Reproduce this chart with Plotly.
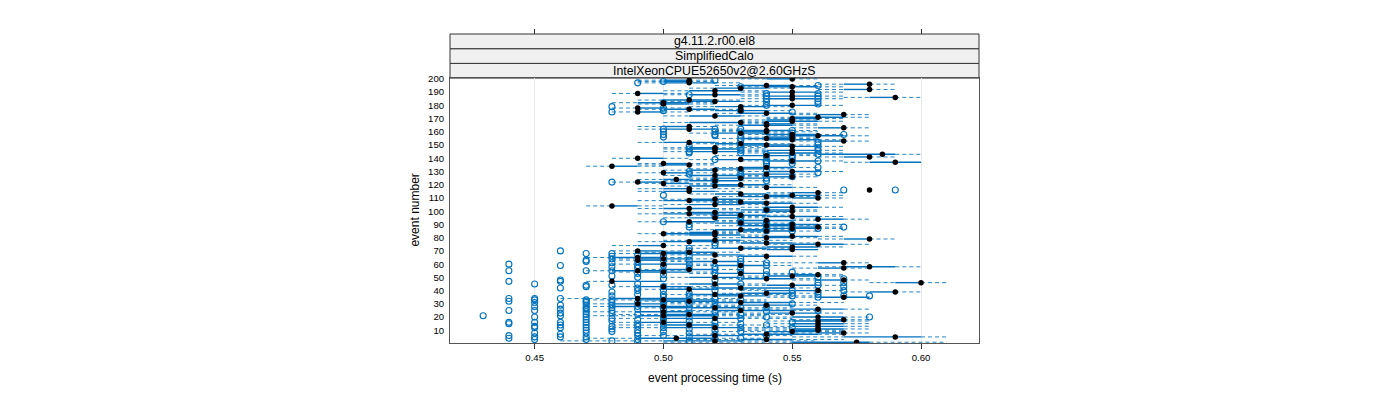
import plotly.graph_objects as go

# ---------------- data (times in milliseconds) ----------------
event_number = list(range(1, 201))

median_ms = [575, 520, 540, 505, 590, 520, 540, 570, 550, 560,
             560, 520, 560, 510, 560, 500, 560, 570, 520, 560,
             500, 510, 550, 500, 530, 560, 520, 500, 540, 490,
             530, 510, 500, 490, 570, 530, 520, 540, 590, 560,
             510, 530, 500, 550, 520, 600, 480, 570, 540, 520,
             550, 560, 530, 500, 490, 510, 570, 580, 530, 500,
             570, 520, 490, 500, 490, 540, 520, 500, 510, 490,
             550, 530, 550, 500, 560, 540, 510, 520, 580, 540,
             550, 520, 500, 520, 540, 530, 550, 560, 540, 550,
             530, 510, 540, 560, 520, 550, 530, 510, 520, 550,
             540, 510, 550, 480, 520, 540, 530, 510, 520, 560,
             540, 550, 530, 560, 510, 580, 510, 540, 520, 530,
             500, 490, 520, 505, 530, 550, 520, 540, 500, 550,
             520, 530, 540, 480, 510, 500, 590, 550, 530, 490,
             580, 540, 585, 550, 520, 550, 520, 520, 550, 540,
             530, 510, 570, 550, 540, 550, 560, 550, 530, 540,
             540, 510, 570, 510, 540, 540, 530, 550, 550, 550,
             560, 520, 570, 540, 490, 530, 510, 490, 530, 550,
             500, 500, 520, 510, 550, 590, 550, 520, 490, 550,
             520, 580, 530, 550, 540, 580, 510, 510, 510, 550]

q1_ms = [550, 500, 530, 490, 570, 510, 530, 560, 540, 550,
         550, 500, 550, 500, 550, 490, 550, 560, 500, 550,
         490, 500, 540, 490, 520, 550, 500, 480, 530, 480,
         520, 500, 490, 480, 560, 520, 510, 530, 580, 540,
         500, 520, 490, 540, 510, 590, 480, 560, 530, 510,
         540, 550, 520, 490, 480, 500, 560, 570, 520, 490,
         560, 510, 490, 490, 480, 530, 510, 490, 500, 490,
         540, 520, 540, 490, 550, 530, 500, 510, 570, 530,
         540, 510, 500, 510, 530, 520, 540, 550, 530, 540,
         520, 500, 530, 560, 510, 540, 520, 500, 510, 540,
         530, 500, 540, 480, 510, 530, 520, 500, 510, 550,
         530, 540, 520, 550, 500, 580, 500, 540, 510, 520,
         500, 490, 510, 500, 520, 540, 510, 530, 500, 540,
         510, 520, 530, 480, 500, 500, 580, 540, 520, 490,
         570, 530, 560, 540, 510, 540, 510, 510, 540, 530,
         520, 500, 560, 540, 530, 540, 550, 540, 520, 530,
         530, 500, 560, 500, 530, 540, 510, 540, 540, 550,
         550, 510, 560, 530, 490, 520, 500, 490, 520, 540,
         500, 490, 510, 500, 540, 580, 540, 510, 490, 540,
         510, 570, 520, 540, 530, 570, 500, 500, 500, 540]

q3_ms = [580, 530, 550, 520, 600, 530, 560, 570, 560, 560,
         570, 530, 570, 520, 570, 510, 570, 570, 530, 570,
         520, 520, 560, 510, 550, 570, 530, 510, 550, 500,
         550, 520, 520, 510, 580, 540, 530, 550, 590, 560,
         520, 550, 510, 560, 530, 600, 500, 570, 550, 530,
         560, 560, 540, 510, 500, 520, 570, 590, 540, 510,
         570, 530, 500, 510, 500, 550, 530, 510, 520, 500,
         560, 540, 560, 500, 570, 550, 520, 530, 580, 550,
         560, 530, 520, 520, 550, 540, 560, 560, 550, 560,
         540, 520, 550, 570, 530, 560, 540, 520, 530, 550,
         550, 520, 560, 490, 530, 550, 540, 520, 530, 560,
         550, 560, 540, 560, 520, 580, 510, 550, 530, 540,
         510, 500, 530, 510, 540, 550, 530, 550, 510, 560,
         520, 540, 550, 490, 510, 510, 600, 560, 540, 500,
         580, 550, 590, 560, 530, 560, 530, 520, 560, 550,
         540, 520, 570, 560, 550, 550, 570, 560, 540, 540,
         550, 520, 570, 510, 550, 550, 530, 560, 550, 560,
         570, 530, 570, 550, 500, 540, 520, 500, 540, 560,
         510, 510, 530, 520, 560, 590, 560, 530, 500, 560,
         530, 580, 540, 560, 550, 580, 520, 510, 510, 550]

whisker_lo_ms = [500, 460, 510, 470, 550, 490, 510, 540, 520, 530,
                 530, 480, 540, 480, 540, 480, 540, 550, 480, 530,
                 470, 480, 520, 470, 500, 530, 490, 470, 510, 470,
                 500, 490, 470, 460, 540, 510, 500, 520, 570, 530,
                 490, 500, 480, 530, 500, 580, 470, 550, 520, 500,
                 530, 540, 510, 480, 470, 490, 550, 560, 510, 480,
                 540, 500, 480, 480, 470, 520, 500, 480, 490, 480,
                 530, 510, 530, 480, 540, 520, 490, 500, 560, 520,
                 530, 500, 490, 500, 520, 510, 530, 540, 520, 530,
                 510, 490, 520, 550, 500, 530, 510, 490, 500, 530,
                 520, 490, 530, 470, 500, 520, 510, 490, 500, 540,
                 520, 530, 510, 540, 490, 580, 490, 530, 500, 510,
                 490, 480, 500, 490, 510, 530, 500, 520, 490, 530,
                 500, 510, 520, 470, 490, 490, 570, 530, 510, 480,
                 560, 520, 550, 530, 500, 530, 500, 500, 530, 520,
                 510, 490, 550, 530, 520, 530, 540, 530, 510, 520,
                 520, 490, 550, 490, 520, 530, 500, 530, 530, 540,
                 540, 500, 550, 520, 480, 510, 490, 480, 510, 530,
                 490, 480, 500, 490, 530, 570, 530, 500, 480, 530,
                 500, 560, 510, 530, 520, 560, 490, 490, 490, 530]

whisker_hi_ms = [610, 560, 570, 540, 610, 550, 570, 580, 570, 570,
                 580, 550, 580, 540, 580, 530, 580, 580, 550, 580,
                 540, 550, 570, 530, 560, 580, 550, 530, 560, 520,
                 570, 540, 540, 530, 580, 560, 550, 560, 600, 570,
                 540, 560, 520, 570, 540, 610, 500, 580, 560, 540,
                 570, 570, 560, 520, 510, 530, 580, 600, 550, 520,
                 580, 540, 510, 520, 510, 560, 540, 520, 530, 510,
                 560, 550, 570, 520, 580, 560, 540, 550, 590, 560,
                 570, 540, 530, 540, 560, 550, 570, 570, 560, 570,
                 550, 530, 560, 580, 540, 570, 550, 530, 550, 560,
                 560, 530, 570, 500, 540, 560, 550, 530, 540, 570,
                 560, 570, 550, 570, 530, 580, 530, 560, 540, 550,
                 520, 510, 540, 520, 550, 560, 540, 560, 520, 570,
                 530, 550, 560, 500, 520, 520, 600, 570, 550, 510,
                 590, 560, 600, 570, 540, 570, 540, 540, 570, 560,
                 550, 530, 580, 570, 560, 560, 580, 570, 550, 560,
                 560, 530, 580, 520, 560, 560, 540, 570, 560, 570,
                 580, 540, 580, 560, 510, 550, 530, 510, 550, 570,
                 520, 520, 540, 530, 570, 600, 570, 540, 510, 570,
                 540, 590, 550, 570, 560, 590, 530, 520, 520, 560]

# outliers: time column (ms) -> event numbers showing an outlier there
outlier_columns_ms = [430, 440, 450, 460, 470, 480, 490, 500, 510, 520,
                      530, 540, 550, 560, 570, 580, 590]
outlier_events = [
    [21],
    [4, 6, 15, 16, 25, 32, 34, 47, 55, 60],
    [3, 5, 8, 12, 13, 16, 20, 25, 28, 31, 33, 34, 45],
    [5, 7, 12, 14, 16, 21, 23, 26, 29, 34, 42, 47, 48, 59, 70],
    [3, 5, 8, 10, 12, 14, 16, 18, 20, 22, 24, 26, 27, 29, 31, 32, 33, 43,
     44, 55, 62, 63, 68],
    [2, 9, 11, 13, 17, 19, 23, 25, 27, 29, 31, 33, 36, 39, 44, 51, 55, 58,
     61, 64, 66, 68, 122, 175, 179],
    [1, 3, 6, 8, 10, 13, 15, 18, 22, 26, 28, 31, 37, 40, 42, 45, 50, 53, 57,
     59, 62, 67, 197],
    [6, 9, 12, 15, 18, 20, 23, 26, 29, 32, 35, 37, 40, 43, 49, 52, 55, 59,
     63, 66, 92, 112, 156, 158, 160, 162, 176, 178, 182, 198],
    [2, 5, 8, 11, 14, 17, 20, 23, 27, 30, 33, 36, 38, 57, 60, 63, 66, 70, 72,
     88, 90, 128, 130, 144, 145, 147, 149, 188],
    [3, 7, 10, 13, 16, 21, 24, 28, 31, 34, 40, 43, 48, 53, 56, 58, 74, 76,
     96, 98, 123, 124, 139, 157, 158, 160, 162, 199],
    [4, 9, 12, 15, 19, 22, 27, 33, 45, 50, 54, 57, 60, 62, 64, 91, 93, 96,
     126, 128, 131, 144, 146, 148, 150, 153, 155, 157, 160, 162, 176, 194],
    [6, 14, 20, 24, 28, 52, 55, 59, 61, 85, 87, 90, 92, 101, 123, 125, 131,
     134, 136, 138, 141, 143, 180, 183, 185, 187, 189],
    [12, 16, 30, 36, 38, 40, 54, 85, 87, 90, 126, 136, 138, 140, 142, 157,
     159, 161, 175],
    [25, 35, 37, 39, 44, 46, 50, 87, 129, 133, 138, 143, 146, 148, 150, 152,
     181, 183, 185, 187, 189, 195],
    [36, 40, 43, 46, 49, 88, 116, 158],
    [20, 36],
    [116],
]

x_tick_values = [0.45, 0.50, 0.55, 0.60]
x_tick_labels = ["0.45", "0.50", "0.55", "0.60"]
y_tick_values = list(range(10, 201, 10))

strip_labels = ["g4.11.2.r00.el8", "SimplifiedCalo", "IntelXeonCPUE52650v2@2.60GHzS"]

# ---------------- styling ----------------
BLUE = "#0072BD"
FONT = "Liberation Sans, Arial, Helvetica, sans-serif"

# build line geometries from the statistics
wx, wy, bx, by = [], [], [], []
for e, lo, a, b, hi in zip(event_number, whisker_lo_ms, q1_ms, q3_ms, whisker_hi_ms):
    if lo < a:
        wx += [lo / 1000, a / 1000, None]
        wy += [e, e, None]
    if hi > b:
        wx += [b / 1000, hi / 1000, None]
        wy += [e, e, None]
    if b > a:
        bx += [a / 1000, b / 1000, None]
        by += [e, e, None]

ox, oy = [], []
for col, evs in zip(outlier_columns_ms, outlier_events):
    for e in evs:
        ox.append(col / 1000)
        oy.append(e)

fig = go.Figure()
fig.add_trace(go.Scatter(x=wx, y=wy, mode="lines", hoverinfo="skip", opacity=0.85,
                         line=dict(color=BLUE, width=1, dash="4px,3px")))
fig.add_trace(go.Scatter(x=bx, y=by, mode="lines", hoverinfo="skip",
                         line=dict(color=BLUE, width=1.4)))
fig.add_trace(go.Scatter(x=ox, y=oy, mode="markers",
                         marker=dict(symbol="circle-open", size=6, color=BLUE,
                                     line=dict(width=1.1, color=BLUE))))
fig.add_trace(go.Scatter(x=[m / 1000 for m in median_ms], y=event_number,
                         mode="markers",
                         marker=dict(symbol="circle", size=5.5, color="black")))
# invisible trace on top axis so that it renders
fig.add_trace(go.Scatter(x=[x_tick_values[0]], y=[y_tick_values[0]], xaxis="x2",
                         mode="markers", marker=dict(opacity=0), hoverinfo="skip"))

# page has an 8px body margin; positions below are in figure pixels
W, H = 1400, 400
OFF = 8.0
top_px = 34.3 - OFF
plot_top_px = 78.3 - OFF
plot_bot_px = 342.7 - OFF
left_px = 450.0 - OFF
right_px = 979.3 - OFF
area_h = plot_bot_px - top_px
dom_top = (plot_bot_px - plot_top_px) / area_h

XR = [0.41714, 0.6225]

fig.update_layout(
    width=W, height=H, autosize=False,
    margin=dict(l=left_px, r=W - right_px, t=top_px, b=H - plot_bot_px, pad=0),
    paper_bgcolor="white", plot_bgcolor="white",
    showlegend=False,
    font=dict(family=FONT, color="black"),
    xaxis=dict(range=XR, tickvals=x_tick_values, ticktext=x_tick_labels,
               ticks="outside", ticklen=5, tickcolor="#333", tickwidth=1,
               showgrid=True, gridcolor="#e8e8e8", gridwidth=1,
               zeroline=False, showline=True, mirror=True, linecolor="#555",
               linewidth=1, tickfont=dict(size=9.6), anchor="y"),
    xaxis2=dict(range=XR, tickvals=x_tick_values, overlaying="x", side="top",
                anchor="free", position=1, ticks="outside", ticklen=5,
                tickcolor="#333", showticklabels=False, showgrid=False,
                zeroline=False, showline=False),
    yaxis=dict(range=[0.4, 200.6], domain=[0, dom_top], tickvals=y_tick_values,
               ticks="outside", ticklen=3, tickcolor="rgba(0,0,0,0)",
               showgrid=False, zeroline=False, showline=True, mirror=True,
               linecolor="#555", linewidth=1, tickfont=dict(size=9.6)),
)

# strips
strip_h = (1 - dom_top) / 3
shapes = []
annotations = []
for i, lab in enumerate(reversed(strip_labels)):
    y0 = dom_top + i * strip_h
    y1 = y0 + strip_h
    shapes.append(dict(type="rect", xref="paper", yref="paper", x0=0, x1=1,
                       y0=y0, y1=y1, fillcolor="#f0f0f0",
                       line=dict(color="#333", width=1), layer="below"))
    annotations.append(dict(text=lab, xref="paper", yref="paper", x=0.5,
                            y=(y0 + y1) / 2, xanchor="center", yanchor="middle",
                            showarrow=False, font=dict(size=12.3, family=FONT)))

annotations.append(dict(text="event processing time (s)", xref="paper", yref="paper",
                        x=0.5, y=(plot_bot_px - (377.7 - OFF)) / area_h,
                        xanchor="center", yanchor="middle", showarrow=False,
                        font=dict(size=12, family=FONT)))
annotations.append(dict(text="event number", xref="paper", yref="paper",
                        x=((415 - OFF) - left_px) / (right_px - left_px), y=dom_top / 2,
                        xanchor="center", yanchor="middle", textangle=-90,
                        showarrow=False, font=dict(size=12, family=FONT)))

fig.update_layout(shapes=shapes, annotations=annotations)
fig.write_html("out.html")
